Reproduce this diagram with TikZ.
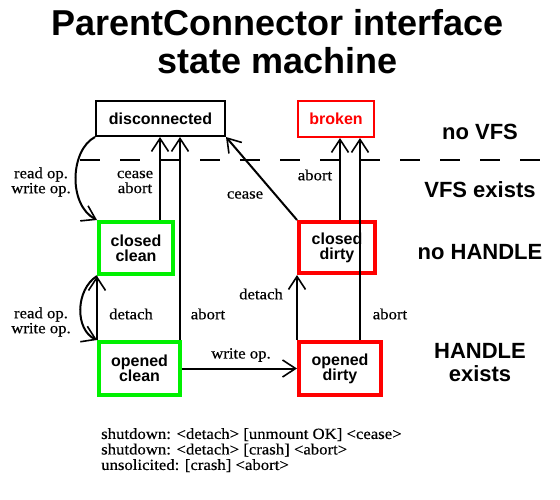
\documentclass[tikz,border=0pt]{standalone}
\usepackage{fontspec}
\setmainfont{Liberation Serif}
\setsansfont{Liberation Sans}
\newfontfamily\lblfont[FakeStretch=1.08,FakeBold=0.4]{Liberation Serif}
\usetikzlibrary{arrows.meta}
\definecolor{sgreen}{RGB}{0,240,0}
\definecolor{sred}{RGB}{255,0,0}
\tikzset{
  box/.style={draw, inner sep=0pt, align=center, font=\sffamily\bfseries\fontsize{16}{15}\selectfont},
  thinbox/.style={box, line width=2pt},
  thickbox/.style={box, line width=4pt},
  arr/.style={line width=2pt, -{Straight Barb[length=13pt,width=17pt,line width=1.6pt]}},
  lbl/.style={inner sep=0pt, align=center, font=\lblfont\fontsize{15.5}{15}\selectfont},
  region/.style={inner sep=0pt, align=center, font=\sffamily\bfseries\fontsize{22}{23}\selectfont},
  ttl/.style={inner sep=0pt, anchor=base, font=\sffamily\bfseries\fontsize{36}{38}\selectfont}
}
\begin{document}
\begin{tikzpicture}[x=1pt,y=-1pt]
\useasboundingbox (0,0) rectangle (560,500);
\node[ttl] (t1) at (278,36) {ParentConnector interface};
\node[ttl] (t2) at (278,74) {state machine};

\node[thinbox, minimum width=129pt, minimum height=35pt] (dis) at (160.5,118.5) {disconnected};
\node[thinbox, draw=sred, text=sred, minimum width=76pt, minimum height=36pt] (brk) at (336,119) {broken};
\node[thickbox, draw=sgreen, minimum width=74pt, minimum height=52pt] (cc) at (136,248) {closed\\clean};
\node[thickbox, draw=sred, minimum width=76pt, minimum height=51pt] (cd) at (337,247.5) {closed\\dirty};
\node[thickbox, draw=sgreen, minimum width=81pt, minimum height=53pt] (oc) at (139.5,368.5) {opened\\clean};
\node[thickbox, draw=sred, minimum width=82pt, minimum height=53pt] (od) at (340,368.5) {opened\\dirty};

\node[region] (r1) at (480,132) {no VFS};
\node[region] (r2) at (480,190) {VFS exists};
\node[region] (r3) at (480,252) {no HANDLE};
\node[region] (r4) at (480,363) {HANDLE\\exists};

\coordinate (dl) at (80,160);
\coordinate (dr) at (540,160);
\draw[line width=2pt, dash pattern=on 20pt off 20pt] (dl) -- (dr);

\coordinate (x160) at (160,0);
\coordinate (x180) at (180,0);
\coordinate (x340) at (340,0);
\coordinate (x360) at (360,0);

\draw[arr] (dis.south west) .. controls (70,150) and (68,205) .. (cc.north west);
\draw[arr] (cc.north -| x160) -- (dis.south -| x160);
\draw[arr] (oc.north -| x180) -- (dis.south -| x180);
\draw[arr] (cd.north west) -- (dis.south east);
\draw[arr] (cd.north -| x340) -- (brk.south -| x340);
\draw[arr] (od.north -| x360) -- (brk.south -| x360);
\draw[arr] (oc.east) -- (od.west);
\draw[arr] (oc.north west) -- (cc.south west);
\draw[arr] (cc.south west) .. controls (75,290) and (75,330) .. (oc.north west);
\draw[arr] (od.north west) -- (cd.south west);

\node[lbl] (l1) at (41,182) {read op.\\write op.};
\node[lbl] (l2) at (135,182) {cease\\abort};
\node[lbl] (l3) at (245,195) {cease};
\node[lbl] (l4) at (315,175) {abort};
\node[lbl] (l5) at (41,322) {read op.\\write op.};
\node[lbl] (l6) at (131,314) {detach};
\node[lbl] (l7) at (208,314) {abort};
\node[lbl] (l8) at (241,355) {write op.};
\node[lbl] (l9) at (261,294) {detach};
\node[lbl] (l10) at (390,314) {abort};

\node[lbl, align=left, anchor=north west, font=\lblfont\fontsize{15.5}{15.5}\selectfont] (notes) at (101,428) {shutdown: <detach> [unmount OK] <cease>\\shutdown: <detach> [crash] <abort>\\unsolicited: [crash] <abort>};
\end{tikzpicture}
\end{document}
